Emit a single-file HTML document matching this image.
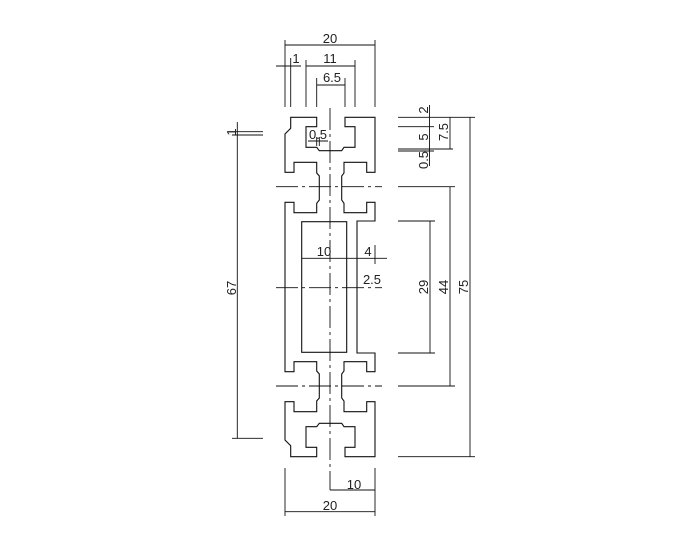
<!DOCTYPE html>
<html><head><meta charset="utf-8"><style>
html,body{margin:0;padding:0;background:#fff;}
svg{display:block;}
text{font-family:"Liberation Sans",sans-serif;font-size:13px;fill:#222;}
</style></head><body>
<svg width="700" height="550" viewBox="0 0 700 550" xmlns="http://www.w3.org/2000/svg">
<g fill="none" stroke="#111" stroke-width="1.1">
<polygon points="316.7,117.3 290.7,117.3 290.7,128.3 285,134 285,172.3 294,172.3 294,162.3 316.7,162.3 316.7,173 319.3,176 319.3,200 316.7,203.3 316.7,212.7 294,212.7 294,202.3 285,202.3 285,371.7 294,371.7 294,361.7 316.7,361.7 316.7,371 319.3,374 319.3,398 316.7,401 316.7,411.7 294,411.7 294,401.7 285,401.7 285,440 290.7,445.7 290.7,456.7 316.7,456.7 316.7,447.3 306,447.3 306,426.7 316.7,426.7 319.3,423.3 341.7,423.3 344,426.7 355,426.7 355,447.3 345,447.3 345,456.7 375,456.7 375,401.7 366.7,401.7 366.7,411.7 344,411.7 344,401 341.7,398 341.7,374 344,371 344,361.7 366.7,361.7 366.7,371.7 375,371.7 375,353 357,353 357,221 375,221 375,202.3 366.7,202.3 366.7,212.7 344,212.7 344,203.3 341.7,200 341.7,176 344,173 344,162.3 366.7,162.3 366.7,172.3 375,172.3 375,117.3 345,117.3 345,126.7 355,126.7 355,147.3 344,147.3 341.7,150.7 319.3,150.7 316.7,147.3 306,147.3 306,126.7 316.7,126.7"/>
<rect x="301.7" y="221.7" width="45" height="130.6"/>
</g>
<g stroke="#111" stroke-width="0.9" fill="none">
<line x1="330" y1="108" x2="330" y2="490" stroke-dasharray="22,4,3,4"/>
<line x1="276" y1="186.7" x2="382" y2="186.7" stroke-dasharray="22,4,3,4"/>
<line x1="276" y1="287.7" x2="382" y2="287.7" stroke-dasharray="22,4,3,4"/>
<line x1="276" y1="386" x2="382" y2="386" stroke-dasharray="22,4,3,4"/>
<line x1="285" y1="40" x2="285" y2="107"/><line x1="375" y1="40" x2="375" y2="107"/>
<line x1="285" y1="45" x2="375" y2="45"/>
<line x1="306" y1="60" x2="306" y2="107"/><line x1="355" y1="60" x2="355" y2="107"/>
<line x1="306" y1="66" x2="355" y2="66"/>
<line x1="316.7" y1="78" x2="316.7" y2="107"/><line x1="345" y1="78" x2="345" y2="107"/>
<line x1="316.7" y1="85" x2="345" y2="85"/>
<line x1="290.7" y1="58" x2="290.7" y2="107"/>
<line x1="276" y1="66" x2="301" y2="66"/>
<line x1="308" y1="141" x2="328" y2="141"/>
<line x1="316.7" y1="137" x2="316.7" y2="146"/><line x1="319.3" y1="137" x2="319.3" y2="146"/>
<line x1="237.3" y1="122" x2="237.3" y2="438.3"/>
<line x1="228" y1="131.7" x2="263" y2="131.7"/>
<line x1="232" y1="135" x2="263" y2="135"/>
<line x1="232" y1="438.3" x2="263" y2="438.3"/>
<line x1="398" y1="117.3" x2="475" y2="117.3"/>
<line x1="398" y1="456.7" x2="475" y2="456.7"/>
<line x1="470" y1="117.3" x2="470" y2="456.7"/>
<line x1="398" y1="126.7" x2="434" y2="126.7"/>
<line x1="398" y1="149" x2="453" y2="149"/>
<line x1="398" y1="151" x2="434" y2="151"/>
<line x1="429.5" y1="105" x2="429.5" y2="166"/>
<line x1="450" y1="117.3" x2="450" y2="149"/>
<line x1="398" y1="186.7" x2="455" y2="186.7"/>
<line x1="398" y1="386" x2="455" y2="386"/>
<line x1="450" y1="186.7" x2="450" y2="386"/>
<line x1="398" y1="221" x2="435" y2="221"/>
<line x1="398" y1="353" x2="435" y2="353"/>
<line x1="430" y1="221" x2="430" y2="353"/>
<line x1="301.7" y1="258.3" x2="387" y2="258.3"/>
<line x1="375" y1="245" x2="375" y2="264"/>
<line x1="285" y1="468" x2="285" y2="516"/><line x1="375" y1="468" x2="375" y2="516"/>
<line x1="330" y1="490" x2="375" y2="490"/>
<line x1="285" y1="511.7" x2="375" y2="511.7"/>
</g>
<g>
<text x="330" y="43" text-anchor="middle">20</text>
<text x="330" y="63" text-anchor="middle">11</text>
<text x="332" y="82" text-anchor="middle">6.5</text>
<text x="296" y="63" text-anchor="middle">1</text>
<text x="318" y="139" text-anchor="middle">0.5</text>
<text x="324" y="256" text-anchor="middle">10</text>
<text x="368" y="256" text-anchor="middle">4</text>
<text x="372" y="284" text-anchor="middle">2.5</text>
<text x="354" y="489" text-anchor="middle">10</text>
<text x="330" y="510" text-anchor="middle">20</text>
<text transform="translate(236,288) rotate(-90)" text-anchor="middle">67</text>
<text transform="translate(236,132) rotate(-90)" text-anchor="middle">1</text>
<text transform="translate(428,287) rotate(-90)" text-anchor="middle">29</text>
<text transform="translate(448,287) rotate(-90)" text-anchor="middle">44</text>
<text transform="translate(468,287) rotate(-90)" text-anchor="middle">75</text>
<text transform="translate(428,110) rotate(-90)" text-anchor="middle">2</text>
<text transform="translate(428,137) rotate(-90)" text-anchor="middle">5</text>
<text transform="translate(448,132) rotate(-90)" text-anchor="middle">7.5</text>
<text transform="translate(428,160) rotate(-90)" text-anchor="middle">0.5</text>
</g>
</svg>
</body></html>
